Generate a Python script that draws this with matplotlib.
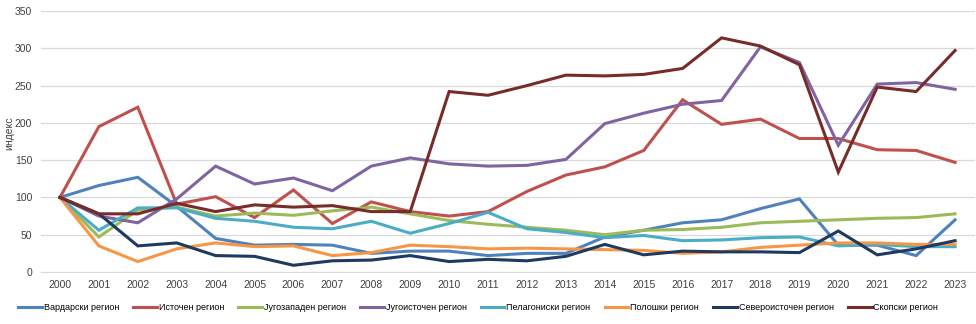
import matplotlib
matplotlib.use('Agg')
import matplotlib.pyplot as plt

years = list(range(2000, 2024))

vardarski = [100, 116, 127, 88, 45, 36, 37, 36, 25, 28, 28, 22, 25, 25, 47, 56, 66, 70, 85, 98, 36, 36, 22, 70]
istochen = [100, 195, 221, 91, 101, 73, 110, 65, 94, 81, 75, 81, 108, 130, 141, 163, 231, 198, 205, 179, 179, 164, 163, 147]
jugozapaden = [100, 47, 83, 87, 75, 79, 76, 82, 87, 78, 69, 64, 60, 56, 50, 56, 57, 60, 66, 68, 70, 72, 73, 78]
jugoistochen = [100, 75, 66, 98, 142, 118, 126, 109, 142, 153, 145, 142, 143, 151, 199, 213, 225, 230, 302, 281, 170, 252, 254, 245]
pelagoniski = [100, 56, 86, 86, 72, 68, 60, 58, 68, 52, 65, 80, 58, 53, 46, 49, 42, 43, 46, 47, 35, 37, 34, 34]
poloshki = [100, 35, 14, 31, 39, 34, 35, 22, 26, 36, 34, 31, 32, 31, 30, 29, 25, 27, 33, 36, 39, 39, 37, 37]
severoistochen = [100, 78, 35, 39, 22, 21, 9, 15, 16, 22, 14, 17, 15, 21, 37, 23, 28, 27, 27, 26, 55, 23, 31, 42]
skopski = [100, 78, 78, 92, 81, 90, 87, 89, 81, 81, 242, 237, 250, 264, 263, 265, 273, 314, 303, 278, 134, 248, 242, 297]

names = ["Вардарски регион", "Источен регион", "Југозападен регион", "Југоисточен регион",
         "Пелагониски регион", "Полошки регион", "Североисточен регион", "Скопски регион"]
colors = ["#4F81BD", "#C0504D", "#9BBB59", "#8064A2", "#4BACC6", "#F79646", "#1F3A60", "#772C2A"]


def main():
    plt.rcParams['font.family'] = ['Liberation Sans', 'DejaVu Sans']
    fig = plt.figure(figsize=(9.76, 3.24), dpi=100)
    ax = fig.add_axes([0.0415, 0.1605, 0.957, 0.8055])

    series = [vardarski, istochen, jugozapaden, jugoistochen, pelagoniski, poloshki, severoistochen, skopski]
    x = list(range(len(years)))
    for vals, name, col in zip(series, names, colors):
        ax.plot(x, vals, color=col, linewidth=2.2, label=name, solid_joinstyle='miter')

    ax.set_xlim(-0.5, len(years) - 0.5)
    ax.set_ylim(0, 350)
    ax.set_yticks(range(0, 351, 50))
    ax.set_xticks(x)
    ax.set_xticklabels([str(y) for y in years])
    ax.tick_params(axis='both', length=0, labelsize=7.5, colors='#404040', pad=6)
    ax.grid(axis='y', color='#D9D9D9', linewidth=0.9)
    ax.set_axisbelow(True)
    for s in ['top', 'right', 'left']:
        ax.spines[s].set_visible(False)
    ax.spines['bottom'].set_color('#D9D9D9')
    fig.text(0.009, 0.59, 'индекс', rotation=90, fontsize=7.5, color='#404040',
             ha='center', va='center')

    fig.legend(loc='center', bbox_to_anchor=(0.49, 0.05), ncol=8, frameon=False,
               fontsize=6.5, handlelength=2.6, handletextpad=0.2, columnspacing=1.6)

    fig.savefig('out.png', dpi=100)


if __name__ == "__main__":
    main()
